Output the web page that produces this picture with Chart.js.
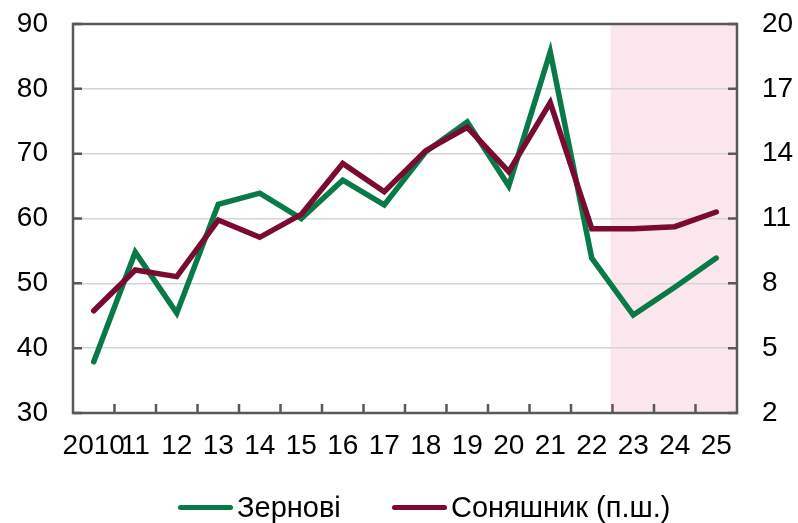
<!DOCTYPE html>
<html>
<head>
<meta charset="utf-8">
<script src="https://cdn.jsdelivr.net/npm/chart.js@4/dist/chart.umd.min.js"></script>
<style>
  html, body { margin: 0; padding: 0; background: #fff; }
  #wrap { width: 798px; height: 523px; position: relative; overflow: hidden; }
  #c { position: absolute; left: 0; top: 0; }
  .lg-item { position: absolute; top: 490px; height: 34px; display: flex; align-items: center;
             font-family: 'Liberation Sans', Arial, sans-serif; font-size: 29px; color: #000; white-space: nowrap; }
  .lg-line { display: inline-block; width: 55px; height: 5px; border-radius: 2.5px; margin-right: 4px; }
</style>
</head>
<body>
<div id="wrap"><canvas id="c" width="798" height="523"></canvas><div id="legend"></div></div>
<script>
const categories = ['2010','11','12','13','14','15','16','17','18','19','20','21','22','23','24','25'];
const grainValues = [37.9, 54.8, 45.4, 62.2, 63.9, 60.0, 65.9, 62.1, 70.3, 74.9, 65.0, 85.7, 53.9, 45.1, 49.4, 53.9];
const sunflowerValues = [6.73, 8.62, 8.31, 10.93, 10.13, 11.19, 13.55, 12.24, 14.14, 15.22, 13.17, 16.36, 10.53, 10.53, 10.62, 11.30];
const leftTicks = [30, 40, 50, 60, 70, 80, 90];
const rightTicks = [2, 5, 8, 11, 14, 17, 20];
const seriesNames = ['Зернові', 'Соняшник (п.ш.)'];
const forecastStart = '23';

const GREEN = '#087A47';
const RED = '#7B0A33';
const AXIS = '#595959';
const FONT = "'Liberation Sans', Arial, sans-serif";
const seriesColors = [GREEN, RED];
const legendLeft = [178, 392];

// HTML legend
const legendEl = document.getElementById('legend');
seriesNames.forEach((name, i) => {
  const item = document.createElement('div');
  item.className = 'lg-item';
  item.style.left = legendLeft[i] + 'px';
  const line = document.createElement('span');
  line.className = 'lg-line';
  line.style.background = seriesColors[i];
  const txt = document.createElement('span');
  txt.textContent = name;
  item.appendChild(line);
  item.appendChild(txt);
  legendEl.appendChild(item);
});

const framePlugin = {
  id: 'frame',
  beforeDraw(chart) {
    const {ctx, chartArea: a, scales} = chart;
    ctx.save();
    ctx.fillStyle = '#fff';
    ctx.fillRect(0, 0, chart.width, chart.height);
    const x = scales.x;
    const idx = categories.indexOf(forecastStart);
    const x0 = (x.getPixelForValue(idx - 1) + x.getPixelForValue(idx)) / 2 - 2;
    ctx.fillStyle = '#fce6ee';
    ctx.fillRect(x0, a.top, a.right - x0, a.bottom - a.top);
    ctx.restore();
  },
  beforeDatasetsDraw(chart) {
    const {ctx, chartArea: a, scales} = chart;
    ctx.save();
    ctx.strokeStyle = AXIS;
    ctx.lineWidth = 2.5;
    ctx.strokeRect(a.left, a.top, a.right - a.left, a.bottom - a.top);
    ctx.beginPath();
    const tl = 9;
    leftTicks.forEach(v => {
      const y = scales.y.getPixelForValue(v);
      ctx.moveTo(a.left, y); ctx.lineTo(a.left + tl, y);
    });
    rightTicks.forEach(v => {
      const y = scales.y1.getPixelForValue(v);
      ctx.moveTo(a.right, y); ctx.lineTo(a.right - tl, y);
    });
    for (let i = 1; i < categories.length; i++) {
      const xp = (scales.x.getPixelForValue(i - 1) + scales.x.getPixelForValue(i)) / 2;
      ctx.moveTo(xp, a.bottom); ctx.lineTo(xp, a.bottom - tl);
    }
    ctx.stroke();
    ctx.restore();
  }
};

function noVertPad(s) { s.paddingTop = 0; s.paddingBottom = 0; }

new Chart(document.getElementById('c'), {
  type: 'line',
  data: {
    labels: categories,
    datasets: [
      {
        label: seriesNames[0],
        data: grainValues,
        yAxisID: 'y',
        borderColor: GREEN,
        backgroundColor: GREEN,
        borderWidth: 5.5,
        pointRadius: 0,
        tension: 0,
        borderCapStyle: 'round',
        borderJoinStyle: 'miter',
        order: 1
      },
      {
        label: seriesNames[1],
        data: sunflowerValues,
        yAxisID: 'y1',
        borderColor: RED,
        backgroundColor: RED,
        borderWidth: 5.5,
        pointRadius: 0,
        tension: 0,
        borderCapStyle: 'round',
        borderJoinStyle: 'miter',
        order: 0
      }
    ]
  },
  options: {
    responsive: false,
    animation: false,
    devicePixelRatio: 1,
    layout: { padding: { top: 24, left: 0, right: 0, bottom: 0 } },
    plugins: {
      tooltip: { enabled: false },
      legend: { display: false }
    },
    scales: {
      x: {
        type: 'category',
        offset: true,
        grid: { display: false, offset: true },
        border: { display: false },
        ticks: {
          font: { family: FONT, size: 28 },
          color: '#000',
          padding: 8,
          maxRotation: 0,
          autoSkip: false
        },
        afterFit(s) { s.height = 110; s.paddingLeft = 0; s.paddingRight = 0; }
      },
      y: {
        position: 'left',
        min: 30, max: 90,
        afterBuildTicks(s) { s.ticks = leftTicks.map(v => ({ value: v })); },
        grid: {
          color: (c) => (c.tick && (c.tick.value === 30 || c.tick.value === 90)) ? 'rgba(0,0,0,0)' : '#d4d4d4',
          lineWidth: 1.5,
          drawTicks: false
        },
        border: { display: false },
        ticks: {
          font: { family: FONT, size: 28 },
          color: '#000',
          padding: 25
        },
        afterFit(s) { s.width = 73; noVertPad(s); }
      },
      y1: {
        position: 'right',
        min: 2, max: 20,
        afterBuildTicks(s) { s.ticks = rightTicks.map(v => ({ value: v })); },
        grid: { drawOnChartArea: false, drawTicks: false },
        border: { display: false },
        ticks: {
          font: { family: FONT, size: 28 },
          color: '#000',
          padding: 25
        },
        afterFit(s) { s.width = 61; noVertPad(s); }
      }
    }
  },
  plugins: [framePlugin]
});
</script>
</body>
</html>
